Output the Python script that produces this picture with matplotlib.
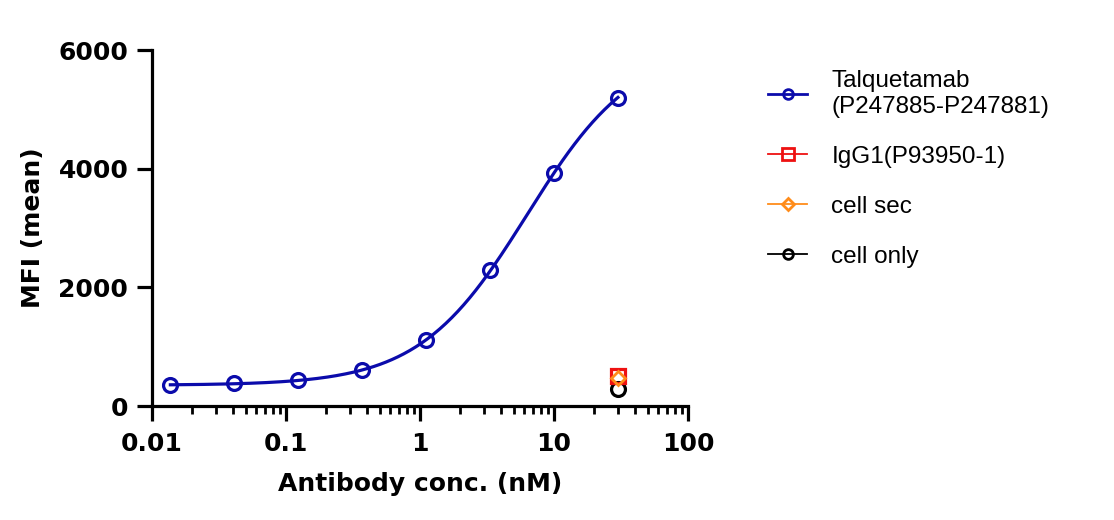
import matplotlib

matplotlib.use("Agg")
import matplotlib.pyplot as plt
import numpy as np
from matplotlib.ticker import LogLocator, NullFormatter, FixedLocator

plt.rcParams["font.family"] = ["Liberation Sans", "DejaVu Sans"]

# 3-fold dilution series (nM) and mean MFI
conc = [30, 10, 3.333, 1.111, 0.3704, 0.1235, 0.04115, 0.01372]
talq = [5190, 3930, 2285, 1112, 607, 436, 385, 352]

ctrl_conc = [30]
igg1 = [500]
cell_sec = [465]
cell_only = [280]

# 4PL fit for Talquetamab
fit_bottom, fit_top, fit_ec50, fit_hill = 350, 6100, 6.3, 1.08

BLUE = "#0b0bab"
RED = "#ee1111"
ORANGE = "#ff8c1a"
BLACK = "#000000"
AXFONT = "DejaVu Sans"

fig = plt.figure(figsize=(11.14, 5.2), dpi=100)
ax = fig.add_axes([0.1364, 0.2192, 0.4812, 0.6846])

xs = np.logspace(np.log10(min(conc)), np.log10(max(conc)), 300)
fit = fit_bottom + (fit_top - fit_bottom) / (1 + (fit_ec50 / xs) ** fit_hill)
ax.plot(xs, fit, color=BLUE, lw=2.3, zorder=3)

mk = dict(mfc="none", mew=2.3, ms=10, ls="none")
ax.plot(conc, talq, marker="o", color=BLUE, zorder=4, **mk)
ax.plot(ctrl_conc, igg1, marker="s", color=RED, zorder=5, **mk)
ax.plot(ctrl_conc, cell_sec, marker="D", color=ORANGE, zorder=6,
        mfc="none", mew=2.0, ms=7, ls="none")
ax.plot(ctrl_conc, cell_only, marker="o", color=BLACK, zorder=4, **mk)

ax.set_xscale("log")
ax.set_xlim(0.01, 100)
ax.set_ylim(0, 6000)
ax.set_yticks([0, 2000, 4000, 6000])
ax.xaxis.set_major_locator(FixedLocator([0.01, 0.1, 1, 10, 100]))
ax.set_xticklabels(["0.01", "0.1", "1", "10", "100"])
ax.xaxis.set_minor_locator(LogLocator(base=10, subs=np.arange(2, 10)))
ax.xaxis.set_minor_formatter(NullFormatter())

for s in ["top", "right"]:
    ax.spines[s].set_visible(False)
for s in ["left", "bottom"]:
    ax.spines[s].set_linewidth(2.3)
ax.tick_params(axis="both", which="major", length=11, width=2.3,
               labelsize=18, pad=6)
ax.tick_params(axis="x", which="major", pad=8)
ax.tick_params(axis="x", which="minor", length=6, width=2.0)
for lab in ax.get_xticklabels() + ax.get_yticklabels():
    lab.set_fontweight("bold")
    lab.set_family(AXFONT)

ax.set_xlabel("Antibody conc. (nM)", fontsize=18, fontweight="bold",
              family=AXFONT, labelpad=11)
ax.set_ylabel("MFI (mean)", fontsize=18, fontweight="bold",
              family=AXFONT, labelpad=10)

lh = [
    ax.plot([], [], color=c, marker=m, mfc="none", mew=2, ms=s, lw=2 if i == 0 else 1.3)[0]
    for i, (c, m, s) in enumerate([(BLUE, "o", 7), (RED, "s", 8), (ORANGE, "D", 6), (BLACK, "o", 7)])
]
leg = fig.legend(lh, ["Talquetamab\n(P247885-P247881)", "IgG1(P93950-1)", "cell sec", "cell only"],
                 loc="upper left", bbox_to_anchor=(0.670, 0.908), frameon=False,
                 fontsize=17.5, handlelength=1.6, handletextpad=1.0, labelspacing=1.15)
for t in leg.get_texts():
    t.set_linespacing(1.25)

fig.savefig("out.png", dpi=100)
